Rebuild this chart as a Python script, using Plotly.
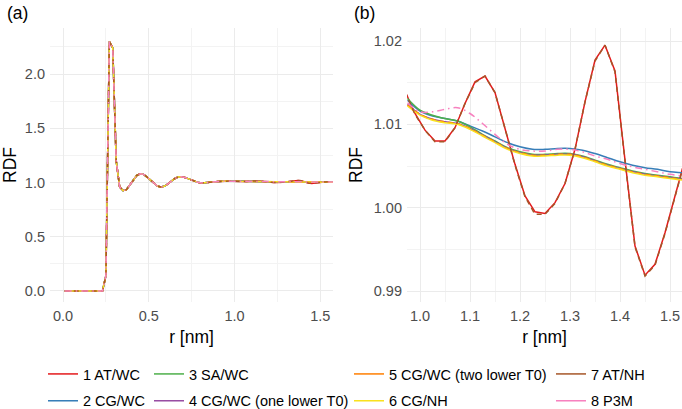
import plotly.graph_objects as go

# ---------------- data ----------------
names = ["1 AT/WC", "2 CG/WC", "3 SA/WC", "4 CG/WC (one lower T0)",
         "5 CG/WC (two lower T0)", "6 CG/NH", "7 AT/NH", "8 P3M"]
colors = ["#E41A1C", "#377EB8", "#4DAF4A", "#984EA3",
          "#FF7F00", "#F9E11E", "#A65628", "#F781BF"]
dashes = ["solid", "solid", "solid", "solid",
          "5px,4px", "solid", "5px,4px", "7px,4px,1.5px,4px"]

# short-range part shared by all systems (indistinguishable at this scale)
r_base = [0.01, 0.03, 0.05, 0.07, 0.09, 0.11, 0.13, 0.15, 0.17, 0.19,
          0.21, 0.23, 0.25, 0.27, 0.29, 0.31, 0.33, 0.35, 0.37, 0.39,
          0.41, 0.43, 0.45, 0.47, 0.49, 0.51, 0.53, 0.55, 0.57, 0.59,
          0.61, 0.63, 0.65, 0.67, 0.69, 0.71, 0.73, 0.75, 0.77, 0.79,
          0.81, 0.83, 0.85, 0.87, 0.89, 0.91, 0.93, 0.95]
g_base = [0.0, 0.0, 0.0, 0.0, 0.0, 0.0, 0.0, 0.0, 0.0, 0.0,
          0.0, 0.0, 0.14, 2.30, 2.24, 1.20, 0.96, 0.925, 0.935, 0.975,
          1.025, 1.065, 1.080, 1.075, 1.050, 1.020, 0.990, 0.968, 0.958, 0.965,
          0.985, 1.010, 1.035, 1.050, 1.053, 1.047, 1.035, 1.020, 1.007, 0.999,
          0.996, 0.997, 1.000, 1.004, 1.008, 1.011, 1.013, 1.014]

# long-range tail, atomistic runs (coarse sampling)
r_at = [0.97, 0.99, 1.01, 1.03, 1.05, 1.07, 1.09, 1.11, 1.13, 1.15,
        1.17, 1.19, 1.21, 1.23, 1.25, 1.27, 1.29, 1.31, 1.33, 1.35,
        1.37, 1.39, 1.41, 1.43, 1.45, 1.47, 1.49, 1.51, 1.53, 1.55,
        1.57, 1.59]
g_at_wc = [1.0140, 1.0113, 1.0093, 1.0080, 1.0080, 1.0096, 1.0125, 1.0151, 1.0158, 1.0138,
           1.0095, 1.0052, 1.0014, 0.9995, 0.9993, 1.0006, 1.0029, 1.0070, 1.0127, 1.0177,
           1.0195, 1.0164, 1.0057, 0.9954, 0.9919, 0.9932, 0.9970, 1.0015, 1.0058, 1.0080,
           1.0060, 1.0040]
g_at_nh = [1.0139, 1.0112, 1.0093, 1.0079, 1.0079, 1.0096, 1.0125, 1.0150, 1.0158, 1.0138,
           1.0095, 1.0051, 1.0013, 0.9992, 0.9992, 1.0005, 1.0029, 1.0070, 1.0127, 1.0176,
           1.0195, 1.0163, 1.0056, 0.9953, 0.9918, 0.9931, 0.9969, 1.0014, 1.0057, 1.0079,
           1.0060, 1.0040]

# long-range tail, smooth runs
r_cg = [0.975, 1.0, 1.025, 1.05, 1.075, 1.1, 1.125, 1.15, 1.175, 1.2,
        1.225, 1.25, 1.275, 1.3, 1.325, 1.35, 1.375, 1.4, 1.425, 1.45,
        1.475, 1.5, 1.525, 1.55, 1.575, 1.6]
g_cg_wc = [1.0129, 1.0116, 1.0110, 1.0107, 1.0104, 1.0098, 1.0092, 1.0085, 1.0078, 1.0073,
           1.0070, 1.0070, 1.0071, 1.0071, 1.0069, 1.0065, 1.0060, 1.0055, 1.0051, 1.0048,
           1.0046, 1.0043, 1.0042, 1.0041, 1.0040, 1.0040]
g_sa_wc = [1.0131, 1.0117, 1.0111, 1.0107, 1.0104, 1.0097, 1.0088, 1.0080, 1.0072, 1.0067,
           1.0064, 1.0064, 1.0065, 1.0065, 1.0062, 1.0057, 1.0052, 1.0048, 1.0044, 1.0041,
           1.0039, 1.0037, 1.0035, 1.0034, 1.0034, 1.0034]
g_cg_wc1 = [1.0124, 1.0112, 1.0106, 1.0103, 1.0101, 1.0095, 1.0087, 1.0079, 1.0071, 1.0066,
            1.0063, 1.0063, 1.0064, 1.0064, 1.0061, 1.0056, 1.0051, 1.0047, 1.0043, 1.0040,
            1.0038, 1.0036, 1.0034, 1.0033, 1.0033, 1.0033]
g_cg_wc2 = [1.0123, 1.0112, 1.0106, 1.0103, 1.0101, 1.0095, 1.0087, 1.0079, 1.0071, 1.0066,
            1.0063, 1.0063, 1.0064, 1.0064, 1.0061, 1.0056, 1.0051, 1.0047, 1.0043, 1.0040,
            1.0038, 1.0036, 1.0034, 1.0033, 1.0033, 1.0033]
g_cg_nh = [1.0122, 1.0111, 1.0105, 1.0102, 1.0100, 1.0094, 1.0086, 1.0078, 1.0070, 1.0065,
           1.0062, 1.0062, 1.0063, 1.0063, 1.0060, 1.0055, 1.0050, 1.0046, 1.0042, 1.0039,
           1.0037, 1.0035, 1.0033, 1.0032, 1.0032, 1.0032]
g_p3m = [1.0126, 1.0115, 1.0115, 1.0118, 1.0120, 1.0113, 1.0101, 1.0088, 1.0076, 1.0070,
         1.0068, 1.0068, 1.0070, 1.0070, 1.0067, 1.0062, 1.0058, 1.0053, 1.0049, 1.0046,
         1.0043, 1.0040, 1.0038, 1.0037, 1.0037, 1.0037]

tails = [(r_at, g_at_wc), (r_cg, g_cg_wc), (r_cg, g_sa_wc), (r_cg, g_cg_wc1),
         (r_cg, g_cg_wc2), (r_cg, g_cg_nh), (r_at, g_at_nh), (r_cg, g_p3m)]

x_ticks_a = [0.0, 0.5, 1.0, 1.5]
y_ticks_a = [0.0, 0.5, 1.0, 1.5, 2.0]
x_ticks_b = [1.0, 1.1, 1.2, 1.3, 1.4, 1.5]
y_ticks_b = [0.99, 1.00, 1.01, 1.02]

# ---------------- figure ----------------
W, H = 682, 409
FONT = "Liberation Sans, Arial, Helvetica, sans-serif"
fig = go.Figure()

def px_x(p):
    return p / W

def px_y(p):
    return 1 - p / H

for i, name in enumerate(names):
    rt, gt = tails[i]
    smooth = rt is r_cg
    xs = r_base + rt
    ys = g_base + gt
    line = dict(color=colors[i], width=1.5, dash=dashes[i])
    fig.add_trace(go.Scatter(x=xs, y=ys, mode="lines", line=line,
                             line_shape="linear", showlegend=False,
                             xaxis="x", yaxis="y", hoverinfo="skip"))
    fig.add_trace(go.Scatter(x=rt, y=gt, mode="lines",
                             line=dict(line, shape="spline" if smooth else "linear"),
                             showlegend=False, xaxis="x2", yaxis="y2",
                             hoverinfo="skip"))

legend_names = ["legend", "legend2", "legend3", "legend4"]
for i, name in enumerate(names):
    fig.add_trace(go.Scatter(x=[None], y=[None], mode="lines",
                             line=dict(color=colors[i], width=1.5),
                             name=name, legend=legend_names[i // 2],
                             legendgroup=name, showlegend=True,
                             xaxis="x", yaxis="y"))

grid = dict(showgrid=True, gridcolor="#EBEBEB", gridwidth=1.1, zeroline=False,
            showline=False, ticks="",
            tickfont=dict(family=FONT, size=14.5, color="#4D4D4D"),
            title_font=dict(family=FONT, size=17.5, color="black"))

dom_y = [px_y(302), px_y(28)]
minor_col = "#F3F3F3"
fig.update_layout(
    width=W, height=H, margin=dict(l=0, r=0, t=0, b=0, autoexpand=False),
    paper_bgcolor="white", plot_bgcolor="white",
    font=dict(family=FONT, color="black"),
    xaxis=dict(grid, domain=[px_x(50), px_x(333)], range=[-0.076, 1.574],
               tickvals=x_ticks_a, tickformat=".1f", anchor="y", ticklabelstandoff=3,
               minor=dict(dtick=0.25, tick0=0, showgrid=True, gridcolor=minor_col, gridwidth=0.8),
               title=dict(text="r [nm]", standoff=8), automargin=False),
    yaxis=dict(grid, domain=dom_y, range=[-0.102, 2.425],
               tickvals=y_ticks_a, tickformat=".1f", anchor="x", ticklabelstandoff=4,
               minor=dict(dtick=0.25, tick0=0, showgrid=True, gridcolor=minor_col, gridwidth=0.8),
               title=dict(text="RDF", standoff=6), automargin=False),
    xaxis2=dict(grid, domain=[px_x(407), 1.0], range=[0.974, 1.524],
                tickvals=x_ticks_b, tickformat=".1f", anchor="y2", ticklabelstandoff=3,
                minor=dict(dtick=0.05, tick0=0.95, showgrid=True, gridcolor=minor_col, gridwidth=0.8),
                title=dict(text="r [nm]", standoff=8), automargin=False),
    yaxis2=dict(grid, domain=dom_y, range=[0.98868, 1.02156],
                tickvals=y_ticks_b, tickformat=".2f", anchor="x2", ticklabelstandoff=4,
                minor=dict(dtick=0.005, tick0=0.985, showgrid=True, gridcolor=minor_col, gridwidth=0.8),
                title=dict(text="RDF", standoff=6), automargin=False),
    annotations=[
        dict(text="(a)", x=px_x(5), y=px_y(13), xref="paper", yref="paper",
             xanchor="left", yanchor="middle", showarrow=False,
             font=dict(family=FONT, size=17.5, color="black")),
        dict(text="(b)", x=px_x(352), y=px_y(13), xref="paper", yref="paper",
             xanchor="left", yanchor="middle", showarrow=False,
             font=dict(family=FONT, size=17.5, color="black")),
    ],
)

leg_x = [43, 149, 349, 551]
for k, ln in enumerate(legend_names):
    fig.update_layout({ln: dict(
        x=px_x(leg_x[k]), y=px_y(358), xanchor="left", yanchor="top",
        orientation="v", bgcolor="rgba(0,0,0,0)", borderwidth=0,
        font=dict(family=FONT, size=14.5, color="black"),
        tracegroupgap=5, itemclick=False, itemdoubleclick=False)})

fig.write_html("out.html", config={"displayModeBar": False},
               post_script="document.body.style.margin='0';")
